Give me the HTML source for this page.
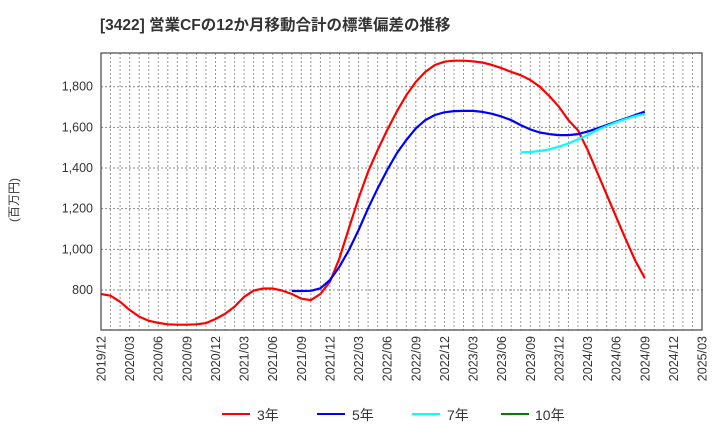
<!DOCTYPE html>
<html><head><meta charset="utf-8"><style>
body{margin:0;background:#fff;}
svg{display:block;font-family:"Liberation Sans","Noto Sans CJK JP",sans-serif;}
</style></head><body>
<svg id="chart" width="720" height="440">
<text x="100" y="30" font-size="15.5" font-weight="bold" fill="#333">[3422]  営業CFの12か月移動合計の標準偏差の推移</text>
<text transform="translate(18,200) rotate(-90)" text-anchor="middle" font-size="12" fill="#333">(百万円)</text>
<g id="grid"></g><g id="series"></g><g id="axes"></g>
<g>
<g><line x1="222" y1="414" x2="250" y2="414" stroke="#ff0000" stroke-width="2"/><text x="257" y="420" font-size="14" fill="#333">3年</text></g>
<g><line x1="317" y1="414" x2="345" y2="414" stroke="#0000ff" stroke-width="2"/><text x="352" y="420" font-size="14" fill="#333">5年</text></g>
<g><line x1="412" y1="414" x2="440" y2="414" stroke="#00ffff" stroke-width="2"/><text x="447" y="420" font-size="14" fill="#333">7年</text></g>
<g><line x1="501" y1="414" x2="529" y2="414" stroke="#008000" stroke-width="2"/><text x="535" y="420" font-size="14" fill="#333">10年</text></g>
</g>
</svg>
<script>
const xLabels=["2019/12","2020/03","2020/06","2020/09","2020/12","2021/03","2021/06","2021/09","2021/12","2022/03","2022/06","2022/09","2022/12","2023/03","2023/06","2023/09","2023/12","2024/03","2024/06","2024/09","2024/12","2025/03"];
const yTicks=[800,1000,1200,1400,1600,1800];
const s3=[780,772,742,702,669,649,638,631,629,629,631,637,657,682,718,766,797,807,807,797,780,757,750,780,841,957,1105,1252,1382,1489,1587,1677,1758,1824,1873,1907,1923,1928,1928,1925,1919,1907,1891,1873,1857,1833,1800,1754,1702,1636,1585,1490,1380,1270,1160,1050,945,858];
const s5Start=20;
const s5=[795,795,796,808,849,915,997,1095,1202,1300,1390,1472,1538,1595,1636,1661,1674,1680,1681,1681,1676,1667,1653,1636,1611,1590,1575,1567,1562,1562,1567,1579,1595,1611,1628,1644,1661,1677];
const s7Start=44;
const s7=[1477,1479,1484,1492,1505,1521,1541,1562,1587,1607,1625,1641,1656,1666];
const s10=[];
const L=101,R=702,T=53,B=330,nMonths=63,yMin=603,yMax=1966;
const X=m=>L+(R-L)*m/nMonths;
const Y=v=>B-(B-T)*(v-yMin)/(yMax-yMin);
const NS="http://www.w3.org/2000/svg";
function mk(t,a,p){const e=document.createElementNS(NS,t);for(const k in a)e.setAttribute(k,a[k]);p.appendChild(e);return e;}
const grid=document.getElementById('grid'),axes=document.getElementById('axes'),ser=document.getElementById('series');
for(let m=1;m<nMonths;m++){const l=mk('line',{x1:X(m),x2:X(m),y1:T,y2:B,stroke:'#999','stroke-dasharray':'2,2','stroke-width':1},grid);

}
yTicks.forEach(v=>{const l=mk('line',{x1:L,x2:R,y1:Y(v),y2:Y(v),stroke:'#888','stroke-dasharray':'2,2','stroke-width':1},grid);


const t=mk('text',{x:L-8,y:Y(v)+4,'text-anchor':'end','font-size':12.5,fill:'#333'},axes);


t.textContent=v.toLocaleString('en-US');});
xLabels.forEach((s,i)=>{const x=X(i*3);const t=mk('text',{transform:`translate(${x+4.5},336) rotate(-90)`,'text-anchor':'end','font-size':12.5,fill:'#333'},axes);


t.textContent=s;});
const fr=mk('rect',{x:L,y:T,width:R-L,height:B-T,fill:'none',stroke:'#444','stroke-width':1.2},axes);


function line(arr,start,color,name){if(!arr.length)return;const d=arr.map((v,i)=>(i?'L':'M')+X(start+i).toFixed(1)+','+Y(v).toFixed(1)).join('');
const p=mk('path',{d:d,fill:'none',stroke:color,'stroke-width':2.2,'stroke-linejoin':'round'},ser);

}
line(s3,0,'#ff0000','series-3y');
line(s5,s5Start,'#0000ff','series-5y');
line(s7,s7Start,'#00ffff','series-7y');
line(s10,0,'#008000','series-10y');
</script>
</body></html>
